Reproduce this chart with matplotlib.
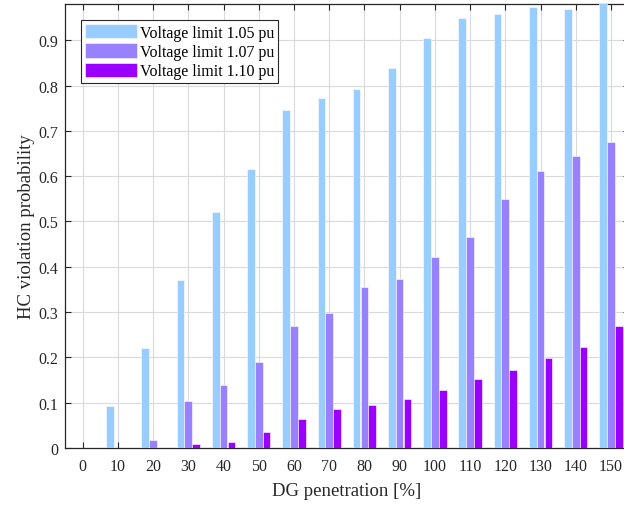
import numpy as np
import matplotlib
matplotlib.use("Agg")
import matplotlib.pyplot as plt

# DG penetration levels [%]
penetration = [0, 10, 20, 30, 40, 50, 60, 70, 80, 90, 100, 110, 120, 130, 140, 150]

# HC violation probability for each voltage limit
p_105 = [0.0, 0.092, 0.221, 0.371, 0.521, 0.615, 0.747, 0.773, 0.793, 0.839, 0.904,
         0.950, 0.957, 0.974, 0.970, 0.985]
p_107 = [0.0, 0.0, 0.018, 0.103, 0.138, 0.189, 0.270, 0.299, 0.356, 0.373, 0.422,
         0.465, 0.549, 0.611, 0.644, 0.675]
p_110 = [0.0, 0.0, 0.0, 0.009, 0.013, 0.035, 0.063, 0.086, 0.095, 0.109, 0.127,
         0.152, 0.172, 0.198, 0.224, 0.270]

labels = ["Voltage limit 1.05 pu", "Voltage limit 1.07 pu", "Voltage limit 1.10 pu"]
colors = ["#99CCFF", "#9980FF", "#9900FF"]

plt.rcParams["font.family"] = ["Liberation Serif", "DejaVu Serif"]

fig = plt.figure(figsize=(6.24, 5.06), dpi=100)
ax = fig.add_axes([65 / 624, 57 / 506, 563.6 / 624, 444 / 506])

# grouped bars, three per penetration level
x = np.array(penetration, dtype=float)
w = 2.22
for i, (vals, lab, col) in enumerate(zip([p_105, p_107, p_110], labels, colors)):
    ax.bar(x + (i - 1) * w, vals, width=w * 0.98, color=col, label=lab,
           edgecolor="white", linewidth=0.4, zorder=3)

ax.set_xlim(-5, 155)
ax.set_ylim(0, 0.98)
ax.set_xticks(penetration)
ax.set_yticks(np.arange(0, 0.91, 0.1))
ax.set_yticklabels(["0"] + ["%.1f" % v for v in np.arange(0.1, 0.91, 0.1)])

ax.grid(True, color="#DADADA", linewidth=0.8, zorder=0)
ax.set_axisbelow(True)
ax.tick_params(direction="in", top=True, right=True, length=4, width=0.8,
               labelsize=11.5, colors="#262626")
ax.tick_params(axis="x", pad=7)
ax.tick_params(axis="y", pad=5)
for s in ax.spines.values():
    s.set_color("#262626")
    s.set_linewidth(0.9)

ax.set_xlabel("DG penetration [%]", fontsize=13.5, color="#262626", labelpad=6)
ax.set_ylabel("HC violation probability", fontsize=13.5, color="#262626")
ax.yaxis.set_label_coords(-0.053, 0.5)

leg = ax.legend(loc="upper left", bbox_to_anchor=(0.028, 0.964), fontsize=11.5,
                fancybox=False, framealpha=1, edgecolor="#262626",
                handlelength=3.3, handleheight=1.0, labelspacing=0.17,
                handletextpad=0.15, borderpad=0.25, borderaxespad=0)
leg.get_frame().set_linewidth(0.8)

fig.savefig("out.png", dpi=100)
